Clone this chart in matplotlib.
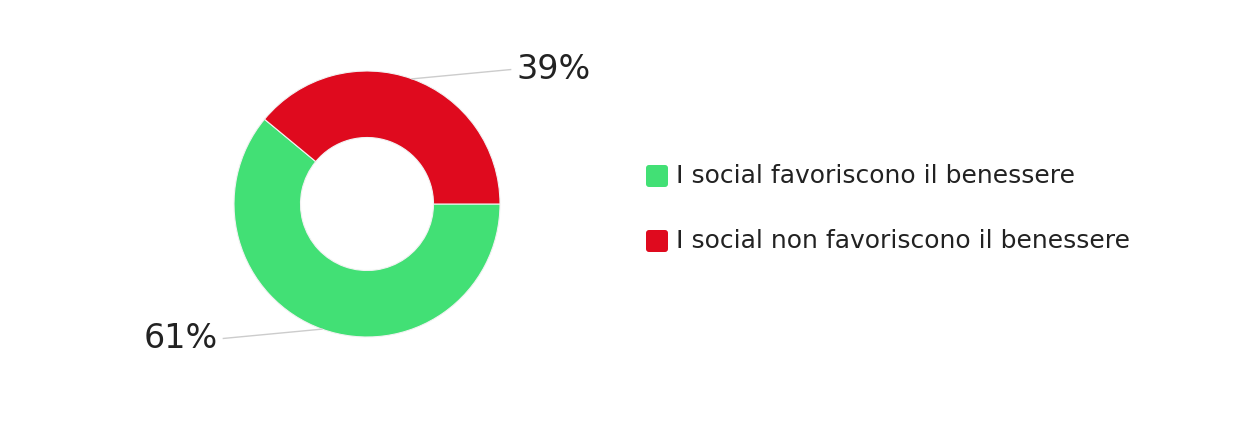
import matplotlib.pyplot as plt
from matplotlib.patches import FancyBboxPatch
import numpy as np

labels = ["I social favoriscono il benessere", "I social non favoriscono il benessere"]
values = [61, 39]
colors = ["#42E075", "#DF0A1E"]

plt.rcParams['font.family'] = ['DejaVu Sans']

fig = plt.figure(figsize=(12.52, 4.24), dpi=100)
# donut centred at (367, 204) px, outer radius 133 px
ax = fig.add_axes([(367 - 133) / 1252, (424 - 204 - 133) / 424, 266 / 1252, 266 / 424])
wedges, _ = ax.pie(values, colors=colors, startangle=0, counterclock=False, radius=1,
                   wedgeprops=dict(width=0.5, edgecolor="#f2f2f2", linewidth=0.8))
ax.set_xlim(-1, 1)
ax.set_ylim(-1, 1)
ax.set_aspect('auto')
ax.axis('off')

# percentage labels with leader lines
for w, v in zip(wedges, values):
    mid = np.deg2rad((w.theta1 + w.theta2) / 2)
    x0, y0 = np.cos(mid), np.sin(mid)
    side = 1 if x0 > 0 else -1
    x1, y1 = side * 1.08, y0 + 0.07 * np.sign(y0)
    ax.plot([x0, x1], [y0, y1], color="#cccccc", lw=1, clip_on=False)
    ax.text(x1 + side * 0.04, y1, f"{v}%", ha='left' if side > 0 else 'right', va='center',
            fontsize=24, color="#222222", clip_on=False)

# legend
rows_y = [2.48, 1.83]
for lab, col, yc in zip(labels, colors, rows_y):
    sq = FancyBboxPatch((6.46, yc - 0.11), 0.22, 0.22, boxstyle="round,pad=0,rounding_size=0.03",
                        transform=fig.dpi_scale_trans, facecolor=col, edgecolor='none')
    fig.patches.append(sq)
    fig.text(6.76, yc, lab, transform=fig.dpi_scale_trans, ha='left', va='center',
             fontsize=18, color="#222222")

fig.savefig("out.png", dpi=100, facecolor='white')
